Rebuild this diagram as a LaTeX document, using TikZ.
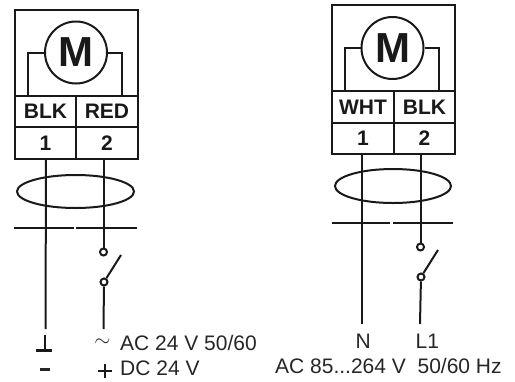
\documentclass[tikz,border=0pt]{standalone}
\usepackage{fontspec}
\setmainfont{Liberation Sans}
\tikzset{
  x=1pt,y=-1pt,
  ln/.style={line width=2pt,draw=black!90,line cap=butt},
  cell/.style={rectangle,draw=black!90,line width=2pt,inner sep=0pt,anchor=north west,font=\fontsize{21}{21}\selectfont\bfseries,text=black!90},
  motor/.style={circle,draw=black!90,line width=2pt,fill=white,minimum size=62pt,inner sep=0pt,font=\fontsize{42}{42}\selectfont\bfseries,text=black!90},
  term/.style={circle,draw=black!90,line width=2pt,fill=white,minimum size=7pt,inner sep=0pt},
  lab/.style={anchor=base west,inner sep=0pt,font=\fontsize{21}{21}\selectfont,text=black!85},
  cable/.style={ellipse,draw=black!90,line width=2pt,inner sep=0pt}
}
\usetikzlibrary{shapes.geometric}
\begin{document}
\begin{tikzpicture}
\useasboundingbox (0,0) rectangle (515,381);
% LEFT
\node[cell,minimum width=123pt,minimum height=86pt] (lhead) at (14,9) {};
\node[cell,minimum width=61pt,minimum height=31pt] (lblk) at (14,95) {BLK};
\node[cell,minimum width=62pt,minimum height=31pt] (lred) at (75,95) {RED};
\node[cell,minimum width=61pt,minimum height=32pt] (lone) at (14,126) {1};
\node[cell,minimum width=62pt,minimum height=32pt] (ltwo) at (75,126) {2};
\node[motor] (lm) at (76,52.5) {M};
\coordinate (lla) at (28,95);
\coordinate (lra) at (122,95);
\draw[ln] (lm.west) -| (lla);
\draw[ln] (lm.east) -| (lra);
\coordinate (lw1a) at (46,158);
\coordinate (lw1b) at (45.5,329);
\coordinate (lw2a) at (103.5,158);
\coordinate (lw2b) at (103.5,329);
\node[term] (lt1) at (103.5,252) {};
\node[term] (lt2) at (104,282) {};
\coordinate (lsw) at (121,255);
\draw[ln] (lw1a) -- (lw1b);
\draw[ln] (lw2a) -- (lt1);
\draw[ln] (lt2) -- (lw2b);
\draw[ln] (lt2) -- (lsw);
\node[cable,minimum width=117pt,minimum height=33pt] (lc) at (75.5,191.5) {};
\draw[ln] (14,228) -- (74,228);
\draw[ln] (76,228) -- (137,228);
\coordinate (lg) at (44.5,335);
\draw[ln] (lg) -- (44.5,350);
\draw[line width=3.5pt,draw=black!90] (36,350.5) -- (52,350.5);
\draw[line width=3pt,draw=black!85] (40,369) -- (50,369);
\node[lab,anchor=center] (ltilde) at (102.5,343) {$\sim$};
\draw[line width=2pt,draw=black!90] (98,371) -- (112,371) (105,364) -- (105,378);
\node[lab] (lac) at (120,350) {AC 24 V 50/60};
\node[lab] (ldc) at (120,375) {DC 24 V};
% RIGHT
\node[cell,minimum width=123pt,minimum height=86pt] (rhead) at (331,4) {};
\node[cell,minimum width=62pt,minimum height=32pt] (rwht) at (331,90) {WHT};
\node[cell,minimum width=61pt,minimum height=32pt] (rblk) at (393,90) {BLK};
\node[cell,minimum width=62pt,minimum height=31pt] (rone) at (331,122) {1};
\node[cell,minimum width=61pt,minimum height=31pt] (rtwo) at (393,122) {2};
\node[motor] (rm) at (392.5,48) {M};
\coordinate (rla) at (344.5,90);
\coordinate (rra) at (439,90);
\draw[ln] (rm.west) -| (rla);
\draw[ln] (rm.east) -| (rra);
\coordinate (rw1a) at (362,153);
\coordinate (rw1b) at (362,324);
\coordinate (rw2a) at (420.5,153);
\coordinate (rw2b) at (420,324);
\node[term] (rt1) at (420.5,247) {};
\node[term] (rt2) at (421,277) {};
\coordinate (rsw) at (438,250);
\draw[ln] (rw1a) -- (rw1b);
\draw[ln] (rw2a) -- (rt1);
\draw[ln] (rt2) -- (rw2b);
\draw[ln] (rt2) -- (rsw);
\node[cable,minimum width=116pt,minimum height=34pt] (rc) at (393,186) {};
\draw[ln] (331.5,223) -- (390,223);
\draw[ln] (393,223) -- (453,223);
\node[lab] (rn) at (355.5,348) {N};
\node[lab] (rl) at (415.5,348) {L1};
\node[lab] (rac) at (275,373) {AC 85...264 V\ \ 50/60 Hz};
\end{tikzpicture}
\end{document}
